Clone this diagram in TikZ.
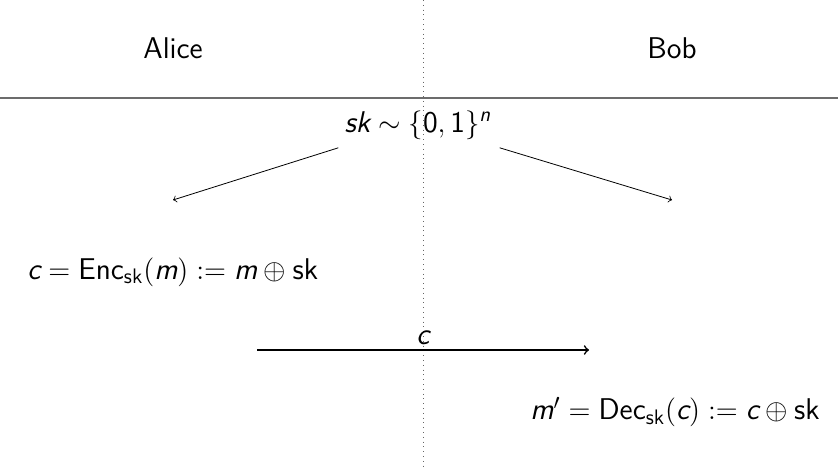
\documentclass[tikz,border=0pt]{standalone}
\usepackage{fontspec}
\usepackage{amsmath}
\usetikzlibrary{positioning}

% sans italic for math variables
\newcommand{\sv}[1]{\textsf{\itshape #1}}
\newcommand{\sr}[1]{\textsf{#1}}

\tikzset{
  party/.style={font=\sffamily\fontsize{15}{18}\selectfont, inner sep=2pt},
  formula/.style={font=\fontsize{15}{18}\selectfont, inner sep=2pt},
  keyarrow/.style={->, thin},
  msgarrow/.style={->, thick}
}

\begin{document}
\begin{tikzpicture}[x=0.5pt, y=-0.5pt]
  \useasboundingbox (0,0) rectangle (838,466);

  % Kopfzeile
  \node[party] (alice) at (173,48) {Alice};
  \node[party] (bob) at (672,48) {Bob};
  \draw[gray!85!black, semithick] (0,98) -- (838,98);
  \draw[dotted, gray!80!black] (423,0) -- (423,466);

  % Schluessel
  \node[formula] (key) at (418,125) {$\sv{sk} \sim \{\sr{0},\sr{1}\}^{\sv{n}}$};
  \coordinate (alicekey) at (173,200);
  \coordinate (bobkey) at (672,200);
  \draw[keyarrow] ([xshift=-1pt,yshift=-2pt]key.south west) -- (alicekey);
  \draw[keyarrow] ([xshift=2pt,yshift=-2pt]key.south east) -- (bobkey);

  % Verschluesseln
  \node[formula, anchor=west] (enc) at (23,272)
    {$\sv{c} = \sr{Enc}_{\sr{sk}}(\sv{m}) := \sv{m} \oplus \sr{sk}$};

  % Nachricht
  \coordinate (msgstart) at (257,350);
  \coordinate (msgend) at (589,350);
  \draw[msgarrow] (msgstart) -- node[formula, above] (msg) {$\sv{c}$} (msgend);

  % Entschluesseln
  \node[formula, anchor=east] (dec) at (824,412)
    {$\sv{m}' = \sr{Dec}_{\sr{sk}}(\sv{c}) := \sv{c} \oplus \sr{sk}$};
\end{tikzpicture}
\end{document}
